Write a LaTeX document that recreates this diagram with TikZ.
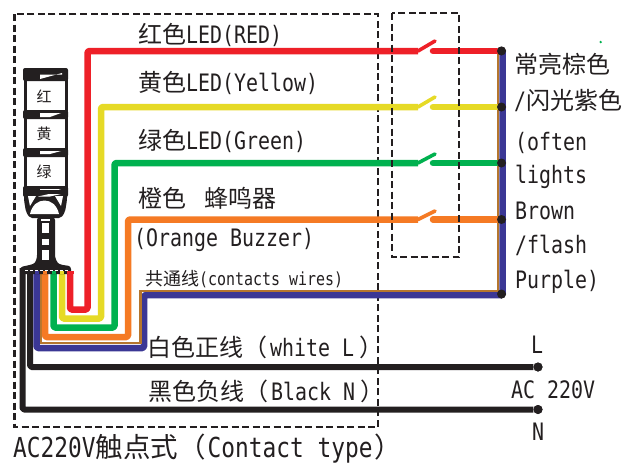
\documentclass[tikz,border=0pt]{standalone}
\usepackage{fontspec}
\setmainfont[FakeStretch=0.83]{DejaVu Sans Mono}
\newfontfamily\cjk{Noto Sans CJK SC}
\newcommand\C[1]{{\cjk #1}}
\definecolor{wred}{HTML}{EE2028}
\definecolor{wyel}{HTML}{E6DA26}
\definecolor{wgrn}{HTML}{00B14F}
\definecolor{wora}{HTML}{F57A24}
\definecolor{wbrn}{HTML}{B5762E}
\definecolor{wblu}{HTML}{3B3795}
\definecolor{wblk}{HTML}{231F20}
\tikzset{
  wire/.style={line width=6.5pt,rounded corners=1.5pt,line join=round},
  lever/.style={line width=3.6pt,line cap=round},
  dashbox/.style={draw=wblk,line width=2.2pt,dash pattern=on 7pt off 3.5pt},
  lbl/.style={anchor=west,inner sep=0pt,text=wblk,font=\fontsize{24}{24}\selectfont},
  small/.style={lbl,font=\fontsize{18}{18}\selectfont},
  big/.style={lbl,font=\fontsize{27.5}{27.5}\selectfont},
  tlbl/.style={inner sep=0pt,text=wblk,font=\cjk\fontsize{15}{15}\selectfont},
  term/.style={circle,fill=wblk,inner sep=0pt,minimum size=9pt},
  tw/.style={draw=wblk,line width=3pt},
  tf/.style={fill=wblk,rounded corners=2pt},
}
\begin{document}
\begin{tikzpicture}[x=1pt,y=-1pt]
\useasboundingbox (0,0) rectangle (625,464);
\fill[white] (0,0) rectangle (625,464);
% terminals
\node[term] (dR) at (501.5,51) {};
\node[term] (dY) at (501.5,107) {};
\node[term] (dG) at (501.5,163) {};
\node[term] (dO) at (501.5,219.5) {};
\node[term] (dC) at (501.5,294) {};
\node[term] (dL) at (538,367) {};
\node[term] (dN) at (538,409.5) {};
% wire starts and switch contacts
\coordinate (sR) at (70,271); \coordinate (sY) at (62,271); \coordinate (sG) at (53.5,271);
\coordinate (sO) at (45,271); \coordinate (sB) at (36.5,271); \coordinate (sL) at (30,268);
\coordinate (sN) at (22.5,268); \coordinate (sW) at (41,271);
\foreach \n/\y/\t in {R/51/41,Y/107/97,G/163/154,O/219.5/211}{
  \coordinate (a\n) at (418,\y);
  \coordinate (b\n) at (433,\y);
  \coordinate (t\n) at (435,\t);
}
% dashed boxes
\draw[dashbox] (14.5,14) rectangle (378,427);
% black wires
\draw[wire,wblk,line width=6pt] (sN) |- (dN);
\draw[wire,wblk,line width=6pt] (sL) |- (dL);
% blue and brown common
\draw[wire,wblu] (sB) -- (36.5,348) -- (144,348) -- (144,295) -- (502.5,295) -- (502.5,51);
\draw[line width=2.4pt,wbrn] (sW) -- (41,343) -- (140.5,343) -- (140.5,291) -- (498,291) -- (498,51);
% colours
\draw[wire,wora] (sO) -- (45,337) -- (128,337) -- (128,219.5) -- (aO);
\draw[wire,wora,line cap=round] (bO) -- (dO);
\draw[wire,wgrn] (sG) -- (53.5,327.5) -- (114.5,327.5) -- (114.5,163) -- (aG);
\draw[wire,wgrn,line cap=round] (bG) -- (dG);
\draw[wire,wyel] (sY) -- (62,318.5) -- (101,318.5) -- (101,107) -- (aY);
\draw[wire,wyel,line cap=round] (bY) -- (dY);
\draw[wire,wred] (sR) -- (70,309.5) -- (87.5,309.5) -- (87.5,51) -- (aR);
\draw[wire,wred,line cap=round] (bR) -- (dR);
\draw[lever,wred] (aR) -- (tR);
\draw[lever,wyel] (aY) -- (tY);
\draw[lever,wgrn] (aG) -- (tG);
\draw[lever,wora] (aO) -- (tO);
\draw[dashbox] (392,13) rectangle (459,257);
% terminals on top
\foreach \n in {dR,dY,dG,dO,dC,dL,dN} \fill[wblk] (\n) circle (4.5pt);
% tower
\draw[tw] (25.5,70) -- (25.5,195) (66,70) -- (66,195);
\fill[tf] (23,68) rectangle (68,81);
\fill[tf] (23,110) rectangle (68,119);
\fill[tf] (23,148) rectangle (68,157);
\fill[tf] (23,186) rectangle (68,197);
\fill[white] (40,74.5) -- (62,74.5) -- (62,73) -- (40,79) -- cycle;
\fill[white] (40,113) -- (61,113) -- (50,117) -- (40,117) -- cycle;
\fill[white] (40,151) -- (61,151) -- (50,154) -- (40,154) -- cycle;
\fill[white] (40,189) -- (61,189) -- (50,193) -- (40,193) -- cycle;
\node[tlbl] (tr) at (44,96) {红};
\node[tlbl] (ty) at (44,134) {黄};
\node[tlbl] (tg) at (44,172) {绿};
% dome
\fill[wblk,rounded corners=2pt] (24,190) -- (67,190) -- (67,200) -- (65,212) -- (61,218) -- (30,218) -- (26,212) -- (24,200) -- cycle;
\fill[white] (28,196) -- (36,196) -- (30,206) -- cycle;
\fill[white] (63,196) -- (55,196) -- (61,206) -- cycle;
\fill[white] (49,194) -- (61,194) -- (50,196.5) -- (38,196.5) -- cycle;
\fill[white] (30,214) .. controls (32,205) and (38,200.5) .. (44.5,200.5) .. controls (51,200.5) and (57,205) .. (59,214) -- cycle;
% stem and base
\fill[wblk,rounded corners=3pt] (20,274) -- (20,267) -- (30,265) .. controls (36,263) and (37,258) .. (37,252) -- (37,217) -- (55,217) -- (55,252) .. controls (55,258) and (57,263) .. (62,265) -- (71,266) -- (71,274) -- cycle;
\fill[white] (41,218.5) rectangle (49.5,220.5);
\fill[white] (42,223) rectangle (49,233);
\fill[white] (42,239) rectangle (49,245);
\fill[white] (42,250) rectangle (49,260);
% wire stubs over base
\foreach \c/\x in {wblu/36.5,wora/45,wgrn/53.5,wyel/62}\fill[\c] (\x-2,271) rectangle (\x+2,274);
\fill[wred] (67,271) rectangle (73.5,274);
\draw[white,line width=0.8pt,dash pattern=on 3pt off 2pt] (25,270) -- (69,270);
% green speck
\fill[wgrn] (600.7,42) circle (1.3pt);
% texts
\node[lbl] (t1) at (138,35) {\C{红色}LED(RED)};
\node[lbl] (t2) at (138,83) {\C{黄色}LED(Yellow)};
\node[lbl] (t3) at (138,141) {\C{绿色}LED(Green)};
\node[lbl] (t4) at (138,198) {\C{橙色\kern18pt 蜂鸣器}};
\node[lbl] (t5) at (134,240) {(Orange Buzzer)};
\node[small] (t6) at (145,279) {\C{共通线}(contacts wires)};
\node[lbl] (t7) at (147,347) {\C{白色正线（}\kern3pt white L\kern5pt\C{）}};
\node[lbl] (t8) at (148,391) {\C{黑色负线（}\kern3pt Black N\kern5pt\C{）}};
\node[big] (t9) at (13,449) {AC220V\C{触点式（}\kern2pt Contact type\kern2pt\C{）}};
\node[lbl] (r1) at (514,64) {\C{常亮棕色}};
\node[lbl] (r2) at (514,100) {/\C{闪光紫色}};
\node[lbl] (r3) at (515,143) {(often};
\node[lbl] (r4) at (515,177) {lights};
\node[lbl] (r5) at (515,211) {Brown};
\node[lbl] (r6) at (515,245) {/flash};
\node[lbl] (r7) at (515,282) {Purple)};
\node[lbl,anchor=center] (pL) at (537,345) {L};
\node[lbl] (pA) at (511,390) {AC 220V};
\node[lbl,anchor=center] (pN) at (538,432) {N};
\end{tikzpicture}
\end{document}
